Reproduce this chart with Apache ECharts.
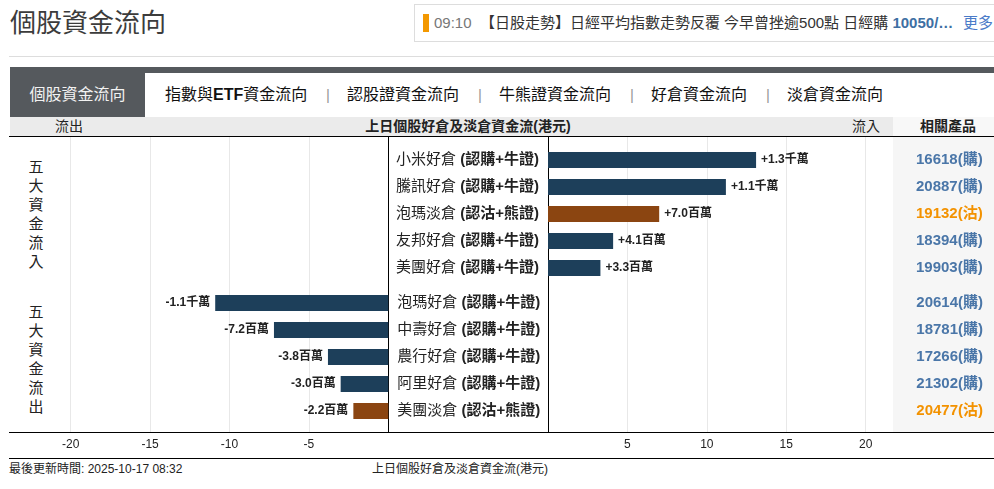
<!DOCTYPE html>
<html><head><meta charset="utf-8">
<script src="https://cdn.jsdelivr.net/npm/echarts@6/dist/echarts.min.js"></script>
<style>
html,body{margin:0;padding:0;width:994px;height:489px;overflow:hidden;background:#fff;font-family:'Liberation Sans',Arial,'Noto Sans CJK TC',sans-serif;color:#222;}
.a{position:absolute;white-space:nowrap;}
#chart{position:absolute;left:0;top:0;width:994px;height:489px;z-index:5;}
</style></head><body>
<div class="a" style="left:10px;top:6px;height:34px;line-height:34px;font-size:26px;color:#3c3c3c;">個股資金流向</div>
<div class="a" style="left:414px;top:4px;width:600px;height:36px;border:1px solid #ddd;border-right:none;"></div>
<div class="a" style="left:423px;top:14px;width:6px;height:18px;background:#f39800;"></div>
<div class="a" style="left:434px;top:13px;line-height:20px;font-size:15px;color:#333;"><span style="color:#777;">09:10</span>&nbsp;&nbsp;【日股走勢】日經平均指數走勢反覆 今早曾挫逾500點 日經購 <b style="color:#3e6fa3;">10050/…</b></div>
<div class="a" style="left:963px;top:13px;line-height:20px;font-size:15px;color:#4a7bc8;">更多</div>
<div class="a" style="left:9px;top:56px;width:985px;height:1px;background:#ddd;"></div>
<div class="a" style="left:10px;top:67px;width:984px;height:6px;background:#55595d;"></div>
<div class="a" style="left:10px;top:67px;width:135px;height:50px;background:#55595d;"></div>
<div class="a" style="left:10px;top:85px;width:135px;text-align:center;line-height:20px;font-size:16px;color:#f2f2f2;">個股資金流向</div>
<div class="a" style="left:165px;top:85px;line-height:20px;font-size:16px;color:#111;">指數與<b>ETF</b>資金流向</div>
<div class="a" style="left:326px;top:85px;line-height:20px;font-size:15px;color:#999;">|</div>
<div class="a" style="left:347px;top:85px;line-height:20px;font-size:16px;color:#111;">認股證資金流向</div>
<div class="a" style="left:478px;top:85px;line-height:20px;font-size:15px;color:#999;">|</div>
<div class="a" style="left:499px;top:85px;line-height:20px;font-size:16px;color:#111;">牛熊證資金流向</div>
<div class="a" style="left:630px;top:85px;line-height:20px;font-size:15px;color:#999;">|</div>
<div class="a" style="left:651px;top:85px;line-height:20px;font-size:16px;color:#111;">好倉資金流向</div>
<div class="a" style="left:766px;top:85px;line-height:20px;font-size:15px;color:#999;">|</div>
<div class="a" style="left:787px;top:85px;line-height:20px;font-size:16px;color:#111;">淡倉資金流向</div>
<div class="a" style="left:10px;top:117px;width:883px;height:19px;background:#ebebeb;"></div>
<div class="a" style="left:893px;top:117px;width:101px;height:19px;background:#f8f8f8;"></div>
<div class="a" style="left:893px;top:137px;width:101px;height:295px;background:#f6f6f6;"></div>
<div class="a" style="left:55px;top:117px;line-height:19px;font-size:14px;color:#222;">流出</div>
<div class="a" style="left:268px;top:117px;width:400px;text-align:center;line-height:19px;font-size:14px;font-weight:bold;color:#222;">上日個股好倉及淡倉資金流(港元)</div>
<div class="a" style="left:852px;top:117px;line-height:19px;font-size:14px;color:#222;">流入</div>
<div class="a" style="left:893px;top:117px;width:110px;text-align:center;line-height:19px;font-size:14px;font-weight:bold;color:#222;">相關產品</div>
<div class="a" style="left:9px;top:136px;width:985px;height:1px;background:#000;"></div>
<div class="a" style="left:9px;top:432px;width:985px;height:1px;background:#000;"></div>
<div class="a" style="left:9px;top:458px;width:985px;height:1px;background:#000;"></div>
<div class="a" style="left:26px;top:157px;width:20px;text-align:center;line-height:19px;font-size:15px;color:#222;white-space:normal;">五<br>大<br>資<br>金<br>流<br>入</div>
<div class="a" style="left:26px;top:302px;width:20px;text-align:center;line-height:19px;font-size:15px;color:#222;white-space:normal;">五<br>大<br>資<br>金<br>流<br>出</div>
<div class="a" style="left:9px;top:461px;line-height:16px;font-size:12px;color:#222;">最後更新時間: 2025-10-17 08:32</div>
<div class="a" style="left:372px;top:461px;line-height:16px;font-size:12px;color:#222;">上日個股好倉及淡倉資金流(港元)</div>
<div id="chart"></div>
<script>
// ---- data ----
const inflowCategories = ['小米好倉 (認購+牛證)','騰訊好倉 (認購+牛證)','泡瑪淡倉 (認沽+熊證)','友邦好倉 (認購+牛證)','美團好倉 (認購+牛證)'];
const inflowValues = [13.1, 11.2, 7.0, 4.1, 3.3];
const inflowLabels = ['+1.3千萬','+1.1千萬','+7.0百萬','+4.1百萬','+3.3百萬'];
const inflowProducts = ['16618(購)','20887(購)','19132(沽)','18394(購)','19903(購)'];
const outflowCategories = ['泡瑪好倉 (認購+牛證)','中壽好倉 (認購+牛證)','農行好倉 (認購+牛證)','阿里好倉 (認購+牛證)','美團淡倉 (認沽+熊證)'];
const outflowValues = [-10.9, -7.2, -3.8, -3.0, -2.2];
const outflowLabels = ['-1.1千萬','-7.2百萬','-3.8百萬','-3.0百萬','-2.2百萬'];
const outflowProducts = ['20614(購)','18781(購)','17266(購)','21302(購)','20477(沽)'];
const xTickLabels = [-20, -15, -10, -5, 5, 10, 15, 20];

// ---- styling ----
const FONT = "'Liberation Sans', Arial, 'Noto Sans CJK TC', sans-serif";
const NAVY = '#1d3f5a', BROWN = '#8b4511';
const barColor = name => name.indexOf('淡倉') >= 0 ? BROWN : NAVY;

const leftMin = -25, rightMax = 21.72;
const gridTop = 137, gridH = 295;
const leftGrid = {left: -8.7, width: 397};
const rightGrid = {left: 548, width: 345};

const catLabel = {
  interval: 0, margin: 9, fontSize: 15, fontFamily: FONT, color: '#222',
  formatter: v => { const i = v.indexOf(' '); return '{n|' + v.slice(0, i) + '} {b|' + v.slice(i + 1) + '}'; },
  rich: {
    n: {fontSize: 15, fontFamily: FONT, color: '#222'},
    b: {fontSize: 15, fontFamily: FONT, fontWeight: 'bold', color: '#222'}
  }
};
const prodLabel = {
  interval: 0, margin: 23, fontSize: 15, fontWeight: 'bold', fontFamily: FONT, align: 'left',
  formatter: v => (v.indexOf('沽') >= 0 ? '{o|' : '{p|') + v + '}',
  rich: {
    p: {fontSize: 15, fontWeight: 'bold', fontFamily: FONT, color: '#4a76a8'},
    o: {fontSize: 15, fontWeight: 'bold', fontFamily: FONT, color: '#f39200'}
  }
};
const tickAxis = (gi, min, max) => ({
  gridIndex: gi, type: 'value', min: min, max: max, interval: 5, position: 'bottom',
  axisLine: {show: false}, axisTick: {show: false},
  splitLine: {show: true, showMinLine: false, showMaxLine: false, lineStyle: {color: '#e8e8e8', width: 1}},
  axisLabel: {margin: 7, fontSize: 12, color: '#222', fontFamily: FONT,
    formatter: v => xTickLabels.indexOf(v) >= 0 ? String(v) : ''}
});
const edgeAxis = (gi, pos) => ({
  gridIndex: gi, type: 'value', position: pos,
  axisLine: {show: true, onZero: false, lineStyle: {color: '#000', width: 1}},
  axisLabel: {show: false}, axisTick: {show: false}, splitLine: {show: false}
});
const catAxis = (gi, data, pos, label, offset) => ({
  gridIndex: gi, type: 'category', inverse: true, data: data, position: pos, offset: offset || 0,
  axisLine: {show: false}, axisTick: {show: false}, splitLine: {show: false}, axisLabel: label
});
const barLabel = (labels, pos) => ({
  show: true, position: pos, distance: 5, fontSize: 12, fontWeight: 'bold', color: '#222', fontFamily: FONT,
  formatter: p => labels[p.dataIndex]
});

const chart = echarts.init(document.getElementById('chart'));
chart.setOption({
  animation: false,
  backgroundColor: 'transparent',
  textStyle: {fontFamily: FONT},
  grid: [
    Object.assign({top: gridTop, height: gridH, outerBoundsMode: 'none', containLabel: false}, leftGrid),
    Object.assign({top: gridTop, height: gridH, outerBoundsMode: 'none', containLabel: false}, rightGrid),
    Object.assign({top: 146.5, height: 135, outerBoundsMode: 'none', containLabel: false}, rightGrid),
    Object.assign({top: 289.5, height: 135, outerBoundsMode: 'none', containLabel: false}, leftGrid)
  ],
  xAxis: [
    tickAxis(0, leftMin, 0),
    tickAxis(1, 0, rightMax),
    {gridIndex: 2, type: 'value', min: 0, max: rightMax, show: false},
    {gridIndex: 3, type: 'value', min: leftMin, max: 0, show: false}
  ],
  yAxis: [
    edgeAxis(0, 'right'),
    edgeAxis(1, 'left'),
    catAxis(2, inflowCategories, 'left', catLabel),
    catAxis(2, inflowProducts, 'right', prodLabel),
    catAxis(3, outflowCategories, 'right', catLabel),
    catAxis(3, outflowProducts, 'right', prodLabel, 505)
  ],
  series: [
    {type: 'bar', xAxisIndex: 2, yAxisIndex: 2, barWidth: 16, silent: true,
     data: inflowValues.map((v, i) => ({value: v, itemStyle: {color: barColor(inflowCategories[i])}})),
     label: barLabel(inflowLabels, 'right')},
    {type: 'bar', xAxisIndex: 3, yAxisIndex: 4, barWidth: 16, silent: true,
     data: outflowValues.map((v, i) => ({value: v, itemStyle: {color: barColor(outflowCategories[i])}})),
     label: barLabel(outflowLabels, 'left')}
  ]
});
</script>
</body></html>
